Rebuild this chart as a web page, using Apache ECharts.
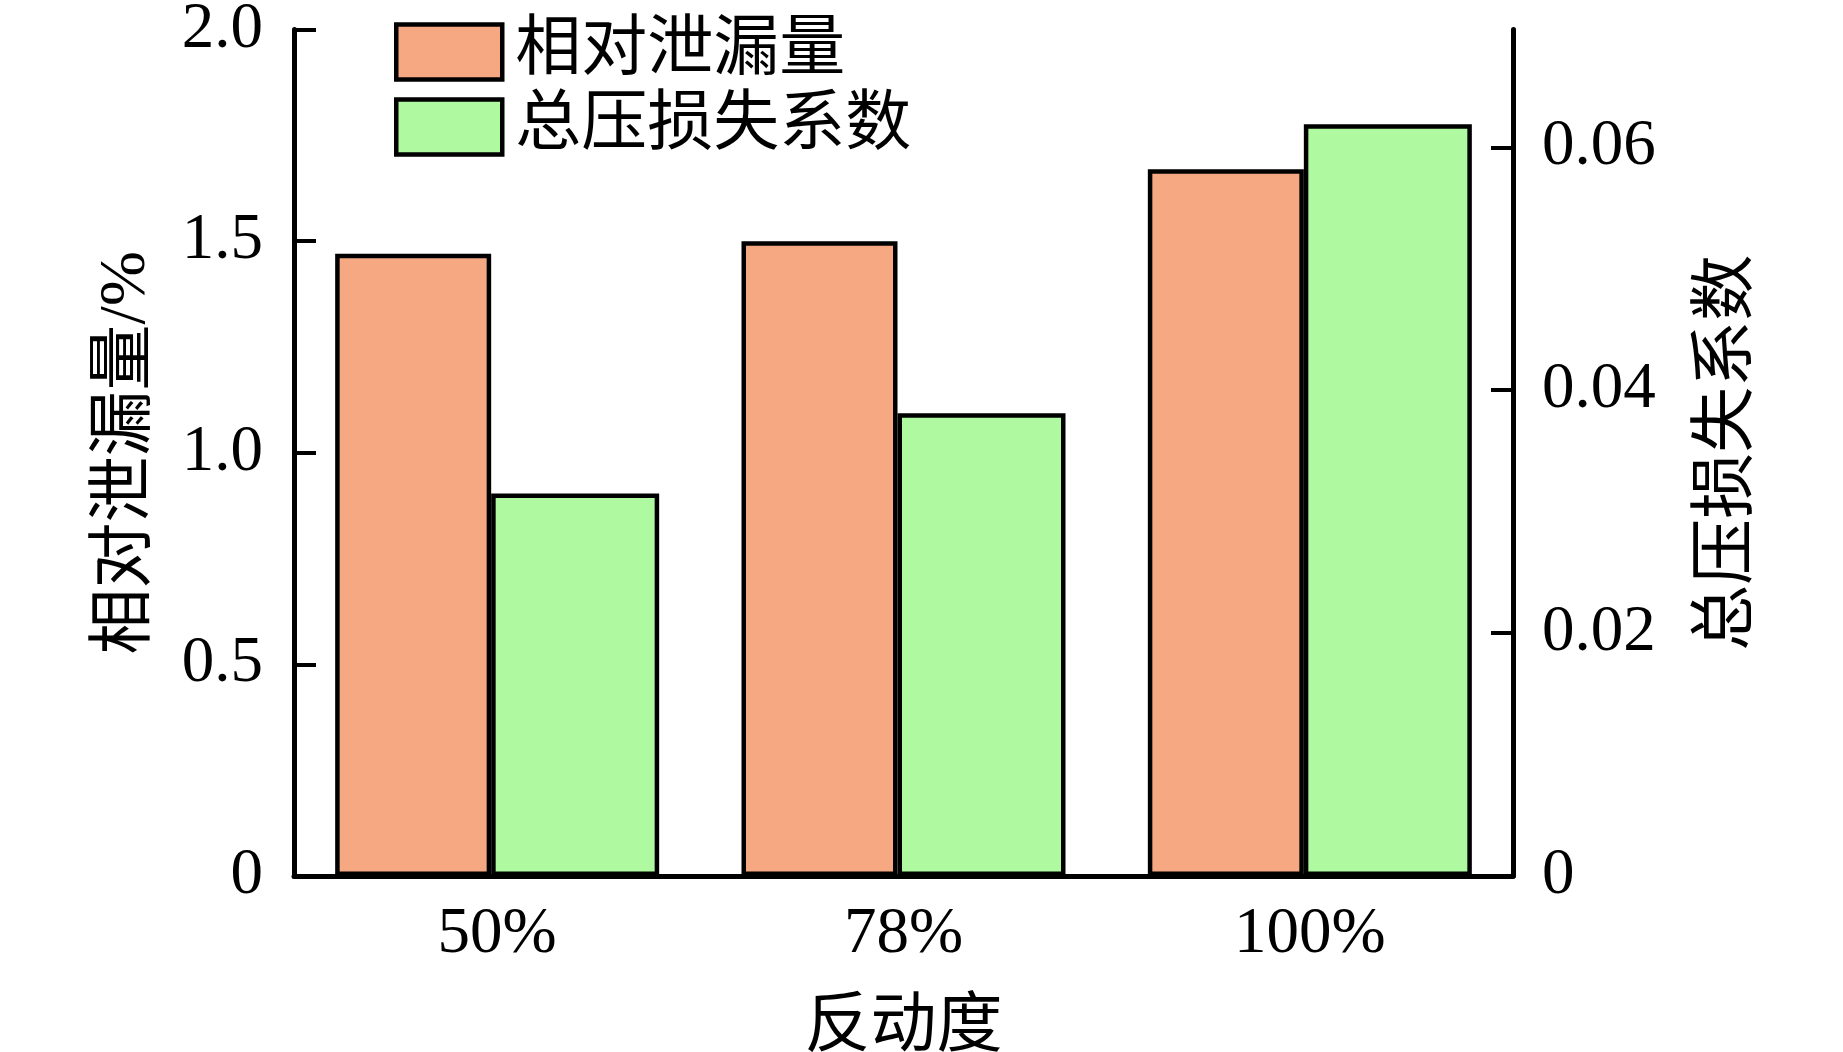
<!DOCTYPE html>
<html>
<head>
<meta charset="utf-8">
<script src="https://cdn.jsdelivr.net/npm/echarts@6/dist/echarts.min.js"></script>
<style>
html,body{margin:0;padding:0;background:#fff;}
#chart{width:1843px;height:1052px;}
</style>
</head>
<body>
<div id="chart"></div>
<script>
// ---- data ----
const categories = ['50%', '78%', '100%'];
const seriesNames = ['相对泄漏量', '总压损失系数'];
const leakage = [1.47, 1.50, 1.67];          // 相对泄漏量/%  (left axis)
const lossCoef = [0.0315, 0.0381, 0.0619];   // 总压损失系数 (right axis)
const leftTickValues = [0, 0.5, 1.0, 1.5, 2.0];
const leftTickLabels = ['0', '0.5', '1.0', '1.5', '2.0'];
const rightTickValues = [0, 0.02, 0.04, 0.06];
const rightTickLabels = ['0', '0.02', '0.04', '0.06'];
const xName = '反动度';
const leftName = '相对泄漏量/%';
const rightName = '总压损失系数';

const FONT = "'Liberation Serif', 'Noto Sans CJK SC', serif";
const chart = echarts.init(document.getElementById('chart'));

function labelFor(values, labels) {
  return function (v) {
    for (let i = 0; i < values.length; i++) {
      if (Math.abs(values[i] - v) < 1e-9) return labels[i];
    }
    return '';
  };
}

const axisLineStyle = { show: true, lineStyle: { color: '#000', width: 5 } };

chart.setOption({
  backgroundColor: '#fff',
  animation: false,
  grid: { left: 294, right: 330, top: 29.5, bottom: 176, containLabel: false, outerBoundsMode: 'none' },
  legend: {
    orient: 'vertical',
    left: 394,
    top: 19,
    padding: 0,
    itemWidth: 106,
    itemHeight: 55,
    itemGap: 9,
    icon: 'rect',
    itemStyle: { borderColor: '#000', borderWidth: 4.5 },
    textStyle: { fontFamily: FONT, fontSize: 66, color: '#000', padding: [0, 0, 0, 8] },
    data: seriesNames
  },
  xAxis: {
    type: 'category',
    data: categories,
    axisLine: axisLineStyle,
    axisTick: { show: false },
    axisLabel: { fontFamily: FONT, fontSize: 65, color: '#000', margin: 26 },
    name: xName,
    nameLocation: 'middle',
    nameGap: 120,
    nameTextStyle: { fontFamily: FONT, fontSize: 66, color: '#000' }
  },
  yAxis: [
    {
      type: 'value',
      min: 0,
      max: 2,
      interval: 0.5,
      axisLine: axisLineStyle,
      axisTick: { show: true, inside: true, length: 22, lineStyle: { color: '#000', width: 4 } },
      axisLabel: { fontFamily: FONT, fontSize: 65, color: '#000', margin: 31,
                   formatter: labelFor(leftTickValues, leftTickLabels) },
      splitLine: { show: false },
      name: leftName,
      nameLocation: 'middle',
      nameRotate: 90,
      nameGap: 134,
      nameTextStyle: { fontFamily: FONT, fontSize: 66, color: '#000' }
    },
    {
      type: 'value',
      position: 'right',
      min: 0,
      max: 0.0697,
      axisLine: axisLineStyle,
      axisTick: { show: true, inside: true, length: 22, customValues: rightTickValues,
                  lineStyle: { color: '#000', width: 4 } },
      axisLabel: { fontFamily: FONT, fontSize: 65, color: '#000', margin: 29,
                   customValues: rightTickValues,
                   formatter: labelFor(rightTickValues, rightTickLabels) },
      splitLine: { show: false },
      name: rightName,
      nameLocation: 'middle',
      nameRotate: 90,
      nameGap: 183,
      nameTextStyle: { fontFamily: FONT, fontSize: 66, color: '#000' }
    }
  ],
  series: [
    {
      name: seriesNames[0],
      type: 'bar',
      yAxisIndex: 0,
      data: leakage,
      barWidth: 156,
      barGap: '0%',
      itemStyle: { color: '#F6A882', borderColor: '#000', borderWidth: 4.5 }
    },
    {
      name: seriesNames[1],
      type: 'bar',
      yAxisIndex: 1,
      data: lossCoef,
      barWidth: 168,
      barGap: '0%',
      itemStyle: { color: '#AFF9A0', borderColor: '#000', borderWidth: 4.5 }
    }
  ]
});
</script>
</body>
</html>
